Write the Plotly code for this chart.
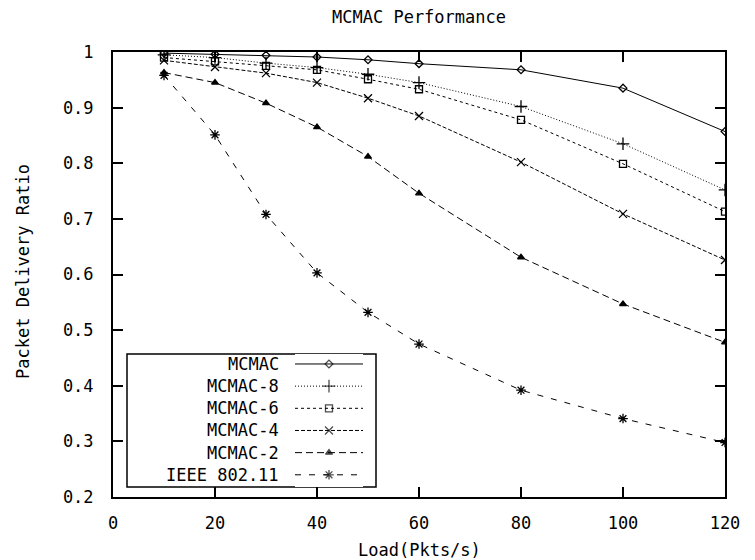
import plotly.graph_objects as go

load = [10, 20, 30, 40, 50, 60, 80, 100, 120]
mcmac = [0.998, 0.996, 0.994, 0.991, 0.986, 0.979, 0.968, 0.935, 0.857]
mcmac8 = [0.995, 0.990, 0.980, 0.972, 0.960, 0.945, 0.902, 0.835, 0.752]
mcmac6 = [0.990, 0.983, 0.975, 0.968, 0.951, 0.933, 0.878, 0.799, 0.713]
mcmac4 = [0.985, 0.973, 0.962, 0.945, 0.917, 0.885, 0.802, 0.709, 0.626]
mcmac2 = [0.963, 0.945, 0.908, 0.865, 0.812, 0.746, 0.631, 0.547, 0.478]
ieee = [0.958, 0.851, 0.708, 0.603, 0.532, 0.475, 0.392, 0.341, 0.298]

names = ["MCMAC", "MCMAC-8", "MCMAC-6", "MCMAC-4", "MCMAC-2", "IEEE 802.11"]
series = [mcmac, mcmac8, mcmac6, mcmac4, mcmac2, ieee]
dashes = ["solid", "1px,2px", "3px,3px", "4px,2px", "7px,4px", "6px,8px"]
symbols = ["diamond-open", "cross-thin-open", "square-open", "x-thin-open",
           "triangle-up", "asterisk-open"]
sizes = [6, 9, 7, 8, 6, 8]

x_ticks = [0, 20, 40, 60, 80, 100, 120]
y_ticks = [0.2, 0.3, 0.4, 0.5, 0.6, 0.7, 0.8, 0.9, 1.0]
y_tick_text = ["0.2", "0.3", "0.4", "0.5", "0.6", "0.7", "0.8", "0.9", "1"]

FONT = "DejaVu Sans Mono"
W, H = 755, 560
L, R, T, B = 113, 725, 52, 497

fig = go.Figure()
for name, ys, d, s, sz in zip(names, series, dashes, symbols, sizes):
    fig.add_trace(go.Scatter(
        x=load, y=ys, mode="lines+markers", name=name, showlegend=False,
        line=dict(color="black", width=1, dash=d),
        marker=dict(symbol=s, size=sz, color="black",
                    line=dict(color="black", width=1.3)),
        xaxis="x", yaxis="y"))

# custom gnuplot-style legend (text left, sample right)
def px_x(p):
    return (p - L) / (R - L)

def px_y(p):
    return (B - p) / (B - T)

for i, (name, d, s, sz) in enumerate(zip(names, dashes, symbols, sizes)):
    fig.add_trace(go.Scatter(
        x=[0, 0.5, 1], y=[i, i, i], mode="lines+markers", showlegend=False,
        line=dict(color="black", width=1, dash=d),
        marker=dict(symbol=s, size=[0, sz, 0], color="black",
                    line=dict(color="black", width=1.3)),
        xaxis="x2", yaxis="y2", hoverinfo="skip"))

annotations = []
for i, name in enumerate(names):
    annotations.append(dict(
        text=name, xref="paper", yref="y2", x=px_x(281), y=i,
        xanchor="right", yanchor="middle", showarrow=False,
        font=dict(family=FONT, size=17, color="black")))

annotations.append(dict(
    text="Load(Pkts/s)", xref="paper", yref="paper", x=0.5, y=px_y(550),
    xanchor="center", yanchor="middle", showarrow=False,
    font=dict(family=FONT, size=17, color="black")))
annotations.append(dict(
    text="Packet Delivery Ratio", xref="paper", yref="paper", x=px_x(23),
    y=px_y(272), xanchor="center", yanchor="middle", textangle=-90,
    showarrow=False, font=dict(family=FONT, size=17, color="black")))

axis_common = dict(showgrid=False, zeroline=False, showline=True,
                   linecolor="black", linewidth=2, mirror="allticks",
                   ticks="inside", ticklen=10, tickwidth=2, tickcolor="black",
                   tickfont=dict(family=FONT, size=17, color="black"))

fig.update_layout(
    width=W, height=H,
    margin=dict(l=L, r=W - R, t=T, b=H - B),
    paper_bgcolor="white", plot_bgcolor="white",
    title=dict(text="MCMAC Performance", x=419 / W,
               xanchor="center", y=1 - 17 / H, yanchor="middle",
               font=dict(family=FONT, size=17, color="black")),
    xaxis=dict(range=[0, 120], tickvals=x_ticks,
               ticktext=[str(v) for v in x_ticks], ticklabelstandoff=10,
               **axis_common),
    yaxis=dict(range=[0.2, 1.0], tickvals=y_ticks, ticktext=y_tick_text,
               ticklabelstandoff=14, **axis_common),
    xaxis2=dict(domain=[px_x(295), px_x(363)], range=[0, 1], visible=False,
                anchor="y2"),
    yaxis2=dict(domain=[px_y(487), px_y(354)], range=[5.55, -0.45],
                visible=False, anchor="x2"),
    shapes=[dict(type="rect", xref="paper", yref="paper",
                 x0=px_x(127), x1=px_x(376), y0=px_y(487), y1=px_y(354),
                 line=dict(color="black", width=1.5), fillcolor="white",
                 layer="below")],
    annotations=annotations,
    showlegend=False,
)

fig.write_html("out.html",
               config={"displayModeBar": False},
               post_script="document.body.style.margin='0';"
                           "document.body.style.padding='0';")
